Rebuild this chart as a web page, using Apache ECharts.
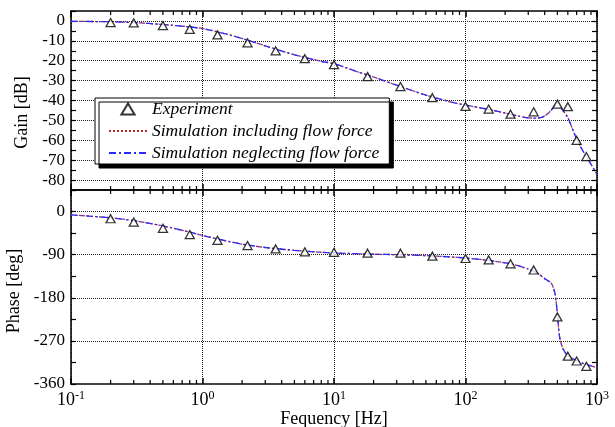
<!DOCTYPE html>
<html>
<head>
<meta charset="utf-8">
<script src="https://cdn.jsdelivr.net/npm/echarts@6/dist/echarts.min.js"></script>
<style>html,body{margin:0;padding:0;background:#fff}#c{width:615px;height:427px}</style>
</head>
<body>
<div id="c"></div>
<script>
// ---- data ----
var expFreq  = [0.2, 0.3, 0.5, 0.8, 1.3, 2.2, 3.6, 6, 10, 18, 32, 56, 100, 150, 220, 330, 500, 600, 700, 830];
var expGain  = [-0.8, -1.0, -2.3, -4.2, -7, -11, -15, -19, -22, -28, -33, -38.6, -43, -44.3, -46.9, -45.7, -41.8, -43.1, -60, -68.2];
var expPhase = [-15, -22, -35, -48, -60, -71, -78, -84, -85, -87, -87, -93, -98, -101, -109, -122, -220, -302, -312, -323];

var simFreq  = [0.1, 0.2, 0.3, 0.5, 0.8, 1, 1.5, 2, 3, 5, 8, 10, 15, 20, 30, 50, 80, 100, 150, 200, 250, 300, 350, 400, 450, 480, 500, 520, 550, 600, 700, 800, 900, 1000];
var simGainIncl  = [-0.2, -0.4, -0.8, -1.8, -3.0, -3.8, -6.5, -8.8, -12.5, -17, -20.3, -21.5, -25.5, -28.2, -32.3, -37.3, -41, -42.3, -44.5, -46.3, -47.8, -48.7, -48.9, -47.8, -44.8, -42.2, -41.2, -42.5, -45, -48.6, -59.4, -66.5, -72, -77];
var simGainNegl  = [-0.2, -0.4, -0.8, -1.8, -3.0, -3.8, -6.5, -8.8, -12.5, -17, -20.3, -21.5, -25.5, -28.2, -32.3, -37.3, -41, -42.3, -44.5, -46.3, -47.8, -48.7, -48.9, -47.8, -44.8, -42.2, -41.2, -42.5, -45, -48.6, -59.4, -66.5, -72, -77];
var simPhaseIncl = [-7, -13, -19, -30, -43, -50, -61, -68, -75, -81, -85, -86.5, -88, -89, -90, -92, -95, -97, -102, -107, -113, -120, -128, -140, -150, -172, -215, -262, -286, -301, -311, -318, -322, -326];
var simPhaseNegl = [-7, -13, -19, -30, -43, -50, -61, -68, -75, -81, -85, -86.5, -88, -89, -90, -92, -95, -97, -102, -107, -113, -120, -128, -140, -150, -172, -215, -262, -286, -301, -311, -318, -322, -326];

var minorFreqs = [0.2,0.3,0.4,0.5,0.6,0.7,0.8,0.9, 2,3,4,5,6,7,8,9, 20,30,40,50,60,70,80,90, 200,300,400,500,600,700,800,900];

var gainRange = [-85, 5];
var phaseRange = [-360, 45];

var nameExp = 'Experiment';
var nameIncl = 'Simulation including flow force';
var nameNegl = 'Simulation neglecting flow force';

function zip(a, b) { return a.map(function (v, i) { return [v, b[i]]; }); }

var FONT = 'Liberation Serif';
var FS = 17;
var chart = echarts.init(document.getElementById('c'), null, { renderer: 'canvas' });

function xAx(grid, pos, labels) {
  var isBottomFrame = (pos === 'bottom' && grid === 1);
  return {
    type: 'log', logBase: 10, gridIndex: grid, position: pos,
    min: 0.1, max: 1000, splitNumber: 4,
    axisLine: { show: true, onZero: false, lineStyle: { color: isBottomFrame ? '#444' : '#000', width: isBottomFrame ? 2 : 1.5 } },
    axisTick: { show: true, inside: true, length: 6, lineStyle: { color: '#000', width: 1.5 } },
    minorTick: { show: false },
    splitLine: { show: pos === 'bottom', lineStyle: { type: 'dotted', color: '#222', width: 1 } },
    axisLabel: labels ? {
      show: true, margin: 6,
      formatter: function (v) { var e = Math.round(Math.log(v) / Math.LN10); return '{b|10}{s|' + e + '}'; },
      rich: {
        b: { fontFamily: FONT, fontSize: 18, color: '#000', lineHeight: 21 },
        s: { fontFamily: FONT, fontSize: 12, color: '#000', verticalAlign: 'top' }
      }
    } : { show: false },
    name: labels ? 'Fequency [Hz]' : '',
    nameLocation: 'middle', nameGap: 26,
    nameTextStyle: { fontFamily: FONT, fontSize: 18, color: '#000' }
  };
}

function yAx(grid, pos, range, step, majorStep, name, colors, namePad) {
  return {
    type: 'value', gridIndex: grid, position: pos,
    min: range[0], max: range[1], interval: step,
    axisLine: { show: true, onZero: false, lineStyle: { color: '#000', width: 1.5 } },
    axisTick: { show: true, inside: true, length: 5, lineStyle: { color: '#000', width: 1.2 } },
    splitLine: pos === 'left' ? { show: true, showMinLine: true, showMaxLine: true, lineStyle: { type: 'dotted', color: colors, width: 1 } } : { show: false },
    axisLabel: pos === 'left' ? {
      show: true, margin: 6, fontFamily: FONT, fontSize: FS, color: '#000',
      formatter: function (v) { return (Math.round(v) % majorStep === 0) ? String(Math.round(v)) : ''; }
    } : { show: false },
    name: pos === 'left' ? name : '',
    nameLocation: 'middle', nameGap: 38, nameRotate: 90,
    nameTextStyle: { fontFamily: FONT, fontSize: 18, color: '#000', padding: namePad || 0 }
  };
}

function minorTicks(xi, yi, yVal) {
  return {
    type: 'custom', name: 'minor' + xi, xAxisIndex: xi, yAxisIndex: yi, silent: true, z: 5,
    clip: false,
    data: minorFreqs.map(function (f) { return [f, yVal]; }),
    renderItem: function (params, api) {
      var cs = params.coordSys;
      var x = api.coord([api.value(0), api.value(1)])[0];
      var L = 4;
      var st = { stroke: '#000', lineWidth: 1.2 };
      return {
        type: 'group', children: [
          { type: 'line', shape: { x1: x, y1: cs.y, x2: x, y2: cs.y + L }, style: st },
          { type: 'line', shape: { x1: x, y1: cs.y + cs.height, x2: x, y2: cs.y + cs.height - L }, style: st }
        ]
      };
    }
  };
}

var lineIncl = { color: '#b22a2a', width: 1.3, type: [2, 2] };
var lineNegl = { color: '#2a2aff', width: 1.3, type: [7, 3, 2, 3] };
var expItem = { color: '#fff', borderColor: '#000', borderWidth: 1.3 };
var hidden = { opacity: 0 };

var option = {
  animation: false,
  backgroundColor: '#fff',
  grid: [
    { left: 71, top: 11, width: 526, height: 179, outerBoundsMode: 'none', containLabel: false },
    { left: 71, top: 190, width: 526, height: 194, outerBoundsMode: 'none', containLabel: false }
  ],
  xAxis: [xAx(0, 'bottom', false), xAx(0, 'top', false), xAx(1, 'bottom', true), xAx(1, 'top', false)],
  yAxis: [
    yAx(0, 'left', gainRange, 5, 10, 'Gain [dB]', ['transparent', '#222'], [0, 24, 0, 0]),
    yAx(0, 'right', gainRange, 5, 10, '', null),
    yAx(1, 'left', phaseRange, 45, 90, 'Phase [deg]', ['#222', 'transparent'], [0, 8, 0, 0]),
    yAx(1, 'right', phaseRange, 45, 90, '', null)
  ],
  legend: {
    data: [
      { name: nameExp, icon: 'path://M6,0L12,10L0,10Z' },
      { name: nameIncl, itemStyle: hidden },
      { name: nameNegl, itemStyle: hidden }
    ],
    orient: 'vertical', left: 95, top: 98,
    itemWidth: 38, itemHeight: 11, itemGap: 4,
    symbolKeepAspect: true,
    padding: [2, 10, 2, 13],
    backgroundColor: '#fff', borderColor: '#000', borderWidth: 1,
    shadowColor: '#000', shadowBlur: 0, shadowOffsetX: 4, shadowOffsetY: 4,
    textStyle: { fontFamily: FONT, fontStyle: 'italic', fontSize: 17.5, color: '#000' },
    z: 20
  },
  series: [
    { type: 'line', name: nameIncl, xAxisIndex: 0, yAxisIndex: 0, data: zip(simFreq, simGainIncl), showSymbol: false, symbol: 'none', smooth: 0.25, lineStyle: lineIncl, itemStyle: { color: lineIncl.color }, z: 3 },
    { type: 'line', name: nameNegl, xAxisIndex: 0, yAxisIndex: 0, data: zip(simFreq, simGainNegl), showSymbol: false, symbol: 'none', smooth: 0.25, lineStyle: lineNegl, itemStyle: { color: lineNegl.color }, z: 4 },
    { type: 'scatter', name: nameExp, xAxisIndex: 0, yAxisIndex: 0, data: zip(expFreq, expGain), symbol: 'triangle', symbolSize: [9, 8], itemStyle: expItem, z: 6 },
    { type: 'line', name: nameIncl, xAxisIndex: 2, yAxisIndex: 2, data: zip(simFreq, simPhaseIncl), showSymbol: false, symbol: 'none', smooth: 0.25, lineStyle: lineIncl, itemStyle: { color: lineIncl.color }, z: 3 },
    { type: 'line', name: nameNegl, xAxisIndex: 2, yAxisIndex: 2, data: zip(simFreq, simPhaseNegl), showSymbol: false, symbol: 'none', smooth: 0.25, lineStyle: lineNegl, itemStyle: { color: lineNegl.color }, z: 4 },
    { type: 'scatter', name: nameExp, xAxisIndex: 2, yAxisIndex: 2, data: zip(expFreq, expPhase), symbol: 'triangle', symbolSize: [9, 8], itemStyle: expItem, z: 6 },
    minorTicks(0, 0, -40),
    minorTicks(2, 2, -180)
  ]
};
chart.setOption(option);
</script>
</body>
</html>
